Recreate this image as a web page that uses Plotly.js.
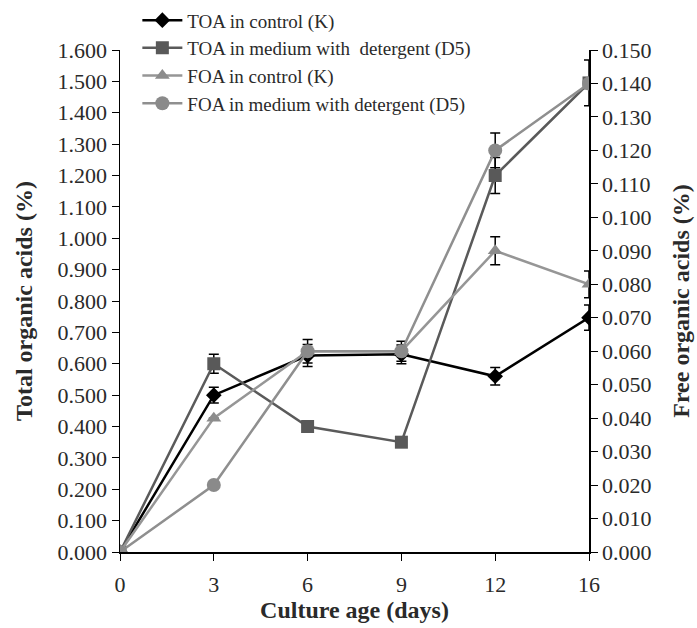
<!DOCTYPE html>
<html>
<head>
<meta charset="utf-8">
<script src="https://cdn.plot.ly/plotly-3.0.1.min.js"></script>
<style>html,body{margin:0;padding:0;background:#fff;}#chart{width:697px;height:628px;}</style>
</head>
<body>
<div id="chart"></div>
<script>
var days = ['0', '3', '6', '9', '12', '16'];
var toaControl = [0.000, 0.500, 0.626, 0.630, 0.560, 0.747];
var toaControlErr = [0, 0.025, 0.035, 0.030, 0.028, 0.040];
var toaDetergent = [0.000, 0.600, 0.400, 0.350, 1.200, 1.495];
var toaDetergentErr = [0, 0.030, 0, 0, 0.057, 0.073];
var foaControl = [0.000, 0.040, 0.060, 0.060, 0.090, 0.080];
var foaControlErr = [0, 0, 0, 0, 0.0042, 0.0040];
var foaDetergent = [0.000, 0.020, 0.060, 0.060, 0.120, 0.140];
var foaDetergentErr = [0, 0, 0.0035, 0.0030, 0.0052, 0];
var leftTicks = [0, 0.1, 0.2, 0.3, 0.4, 0.5, 0.6, 0.7, 0.8, 0.9, 1.0, 1.1, 1.2, 1.3, 1.4, 1.5, 1.6];
var rightTicks = [0, 0.01, 0.02, 0.03, 0.04, 0.05, 0.06, 0.07, 0.08, 0.09, 0.10, 0.11, 0.12, 0.13, 0.14, 0.15];

var serif = '"Liberation Serif", serif';
var txt = '#2a2a2a';
function err(arr) {
  return {type: 'data', array: arr, visible: true, color: '#000', thickness: 1.5, width: 5};
}
var traces = [
  {x: days, y: toaControl, name: 'TOA in control (K)', type: 'scatter', mode: 'lines+markers',
   line: {color: '#000000', width: 2.5}, marker: {symbol: 'diamond', size: 12, color: '#000000'},
   error_y: err(toaControlErr), yaxis: 'y'},
  {x: days, y: toaDetergent, name: 'TOA in medium with  detergent (D5)', type: 'scatter', mode: 'lines+markers',
   line: {color: '#5a5a5a', width: 2.5}, marker: {symbol: 'square', size: 13, color: '#595959'},
   error_y: err(toaDetergentErr), yaxis: 'y'},
  {x: days, y: foaControl, name: 'FOA in control (K)', type: 'scatter', mode: 'lines+markers',
   line: {color: '#969696', width: 2.5}, marker: {symbol: 'triangle-up', size: 13, color: '#8c8c8c'},
   error_y: err(foaControlErr), yaxis: 'y2'},
  {x: days, y: foaDetergent, name: 'FOA in medium with detergent (D5)', type: 'scatter', mode: 'lines+markers',
   line: {color: '#8f8f8f', width: 2.5}, marker: {symbol: 'circle', size: 14, color: '#8a8a8a'},
   error_y: err(foaDetergentErr), yaxis: 'y2'}
];

var layout = {
  width: 697, height: 628,
  margin: {l: 120, r: 108, t: 50, b: 76, autoexpand: false},
  paper_bgcolor: '#fff', plot_bgcolor: '#fff',
  font: {family: serif, color: txt, size: 20},
  showlegend: true,
  legend: {x: 0.037, y: 1.097, xanchor: 'left', yanchor: 'top', bgcolor: 'rgba(0,0,0,0)',
           font: {family: serif, size: 19, color: txt}, tracegroupgap: 0, itemwidth: 40},
  xaxis: {type: 'category', range: [0, 5], showline: true, linecolor: '#000', linewidth: 1.5,
          ticks: 'outside', ticklen: 7, tickcolor: '#000', showgrid: false, zeroline: false,
          tickfont: {family: serif, size: 22, color: txt}, automargin: false, ticklabelstandoff: 5,
          title: {text: '<b>Culture age (days)</b>', font: {family: serif, size: 24, color: txt}, standoff: 4}},
  yaxis: {range: [0, 1.6], tickvals: leftTicks, tickformat: '.3f', showline: true, linecolor: '#000', linewidth: 1.5,
          ticks: 'outside', ticklen: 7, tickcolor: '#000', showgrid: false, zeroline: false,
          tickfont: {family: serif, size: 22, color: txt}, automargin: false,
          title: {text: '<b>Total organic acids (%)</b>', font: {family: serif, size: 24, color: txt}, standoff: 18}},
  yaxis2: {range: [0, 0.15], tickvals: rightTicks, tickformat: '.3f', overlaying: 'y', side: 'right',
           showline: true, linecolor: '#000', linewidth: 1.5,
           ticks: 'outside', ticklen: 7, tickcolor: '#000', showgrid: false, zeroline: false,
           tickfont: {family: serif, size: 22, color: txt}, automargin: false,
           title: {text: '<b>Free organic acids (%)</b>', font: {family: serif, size: 24, color: txt}, standoff: 22}}
};

Plotly.newPlot('chart', traces, layout, {displayModeBar: false, staticPlot: true});
</script>
</body>
</html>
